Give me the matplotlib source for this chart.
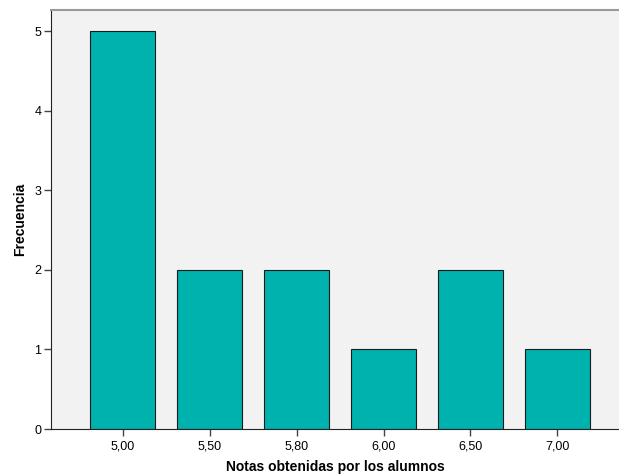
import matplotlib
matplotlib.use("Agg")
import matplotlib.pyplot as plt

notas = ["5,00", "5,50", "5,80", "6,00", "6,50", "7,00"]
frecuencia = [5, 2, 2, 1, 2, 1]

plt.rcParams['font.family'] = ['Liberation Sans', 'DejaVu Sans']

fig = plt.figure(figsize=(6.19, 4.75), dpi=100)
ax = fig.add_axes([51 / 619, 46 / 475, 568 / 619, 419 / 475])
ax.set_facecolor('#F2F2F2')

pos = list(range(len(notas)))
ax.bar(pos, frecuencia, width=0.747, color='#00B2AE', edgecolor='#1a1a1a', linewidth=0.8, zorder=2)

ax.set_xlim(-0.822, 5.707)
ax.set_ylim(0, 5.264)
ax.set_xticks(pos)
ax.set_xticklabels(notas)
ax.set_yticks(range(0, 6))

ax.tick_params(axis='both', labelsize=9, length=5, width=1, color='#444444')
ax.tick_params(axis='x', pad=3)
ax.tick_params(axis='y', pad=2)

ax.spines['left'].set_color('#222222')
ax.spines['bottom'].set_color('#222222')
ax.spines['top'].set_color('#999999')
ax.spines['top'].set_linewidth(1.5)
ax.spines['right'].set_visible(False)

ax.set_xlabel('Notas obtenidas por los alumnos', fontsize=10, fontweight='bold', labelpad=6)
ax.set_ylabel('Frecuencia', fontsize=10, fontweight='bold', labelpad=5)

fig.savefig('out.png', dpi=100)
